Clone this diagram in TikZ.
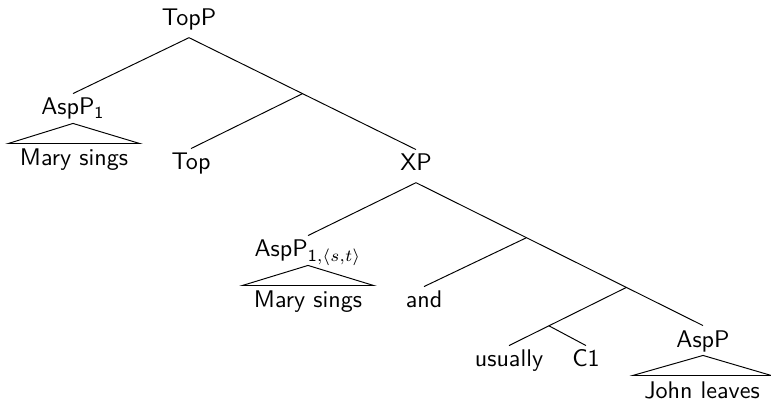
\documentclass[tikz,border=0pt]{standalone}
\usetikzlibrary{calc}
\begin{document}
\begin{tikzpicture}[x=0.415pt,y=-0.415pt,
  lab/.style={anchor=base,font=\sffamily,text height=6.94pt,text depth=2.9pt,inner ysep=1.75pt,inner xsep=0pt},
  rooflab/.style={lab,text depth=1.55pt},
  leaf/.style={anchor=base,font=\sffamily,text height=6.94pt,text depth=1.94pt,inner ysep=2.2pt,inner xsep=4.6pt},
  edge/.style={line width=0.4pt}]
\useasboundingbox (0,0) rectangle (771,402);
% nodes
\node[lab] (TopP) at (189,26) {TopP};
\node[rooflab] (AspPa) at (73,115) {AspP$_{\mathsf{1}}$};
\node[leaf] (Marya) at (74,166) {Mary sings};
\node[lab] (Top) at (191,170) {Top};
\node[lab] (XP) at (416,171) {XP};
\node[rooflab] (AspPb) at (308,257) {AspP$_{\mathsf{1},\langle s,t\rangle}$};
\node[leaf] (Maryb) at (308,308) {Mary sings};
\node[lab] (and) at (424,308) {and};
\node[lab] (usually) at (509,367) {usually};
\node[lab] (C1) at (586,367) {C1};
\node[rooflab] (AspP) at (703,347) {AspP};
\node[leaf] (John) at (702,398) {John leaves};
% branch points
\coordinate (b1) at ($(TopP.south)!0.5!(XP.north)$);
\coordinate (b2) at ($(XP.south)!0.385!(AspP.north)$);
\coordinate (b3) at ($(XP.south)!0.733!(AspP.north)$);
\coordinate (b4) at ($(b3)!0.66!(usually.north)$);
% edges
\draw[edge] (TopP.south) -- (AspPa.north);
\draw[edge] (TopP.south) -- (XP.north);
\draw[edge] (b1) -- (Top.north);
\draw[edge] (XP.south) -- (AspPb.north);
\draw[edge] (XP.south) -- (AspP.north);
\draw[edge] (b2) -- (and.north);
\draw[edge] (b3) -- (usually.north);
\draw[edge] (b4) -- (C1.north);
% roofs
\draw[edge] (AspPa.south) -- (Marya.north west) -- (Marya.north east) -- cycle;
\draw[edge] (AspPb.south) -- (Maryb.north west) -- (Maryb.north east) -- cycle;
\draw[edge] (AspP.south) -- (John.north west) -- (John.north east) -- cycle;
\end{tikzpicture}
\end{document}
